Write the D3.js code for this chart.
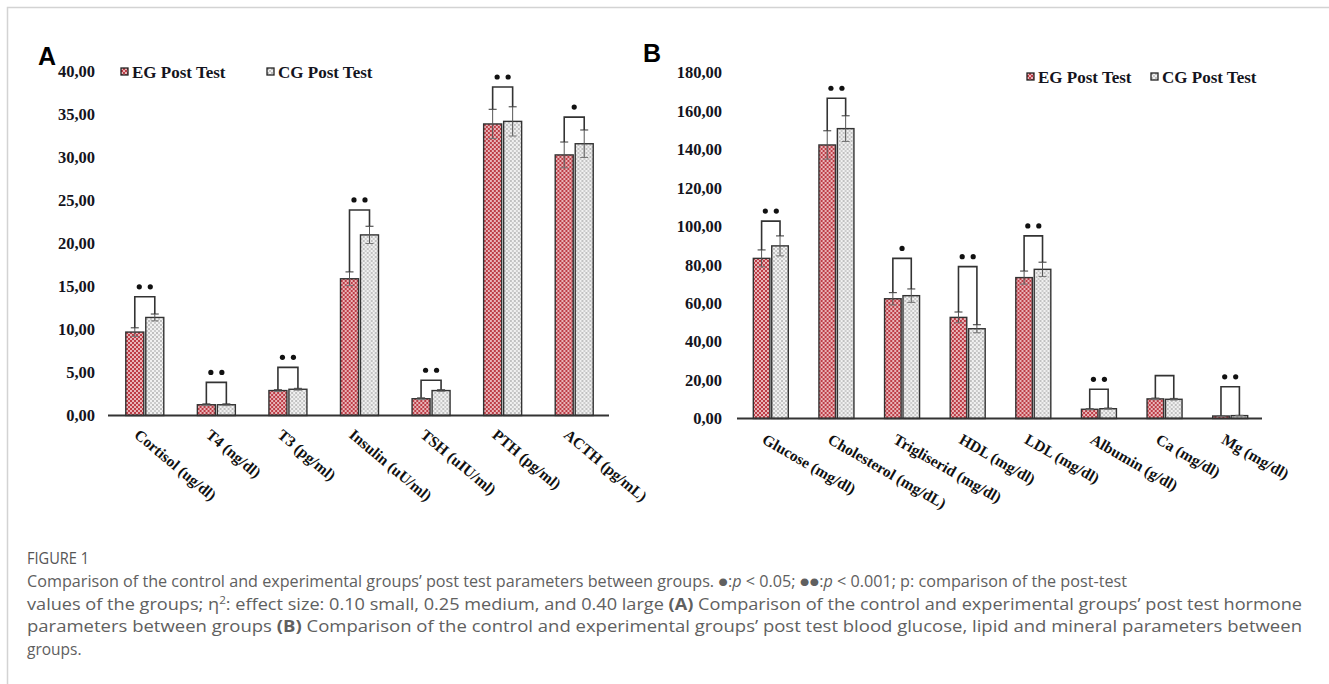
<!DOCTYPE html>
<html>
<head>
<meta charset="utf-8">
<script src="https://cdn.jsdelivr.net/npm/d3@7"></script>
<style>
  body { margin: 0; background: #fff; }
  svg { display: block; }
</style>
</head>
<body>
<script>
// Panel A: hormone parameters
const catsA = ['Cortisol (ug/dl)', 'T4 (ng/dl)', 'T3 (pg/ml)', 'Insulin (uU/ml)', 'TSH (uIU/ml)', 'PTH (pg/ml)', 'ACTH (pg/mL)'];
const egA = [9.7, 1.25, 2.9, 15.9, 1.95, 33.9, 30.3];
const cgA = [11.4, 1.25, 3.05, 21.0, 2.9, 34.2, 31.6];
const egErrA = [0.5, 0.1, 0.1, 0.8, 0.1, 1.7, 1.5];
const cgErrA = [0.4, 0.1, 0.1, 1.0, 0.1, 1.7, 1.6];
const bracketA = [13.8, 3.85, 5.6, 23.9, 4.1, 38.2, 34.7];
const sigA = [2, 2, 2, 2, 2, 2, 1];
const ticksA = [0, 5, 10, 15, 20, 25, 30, 35, 40];

// Panel B: glucose, lipid and mineral parameters
const catsB = ['Glucose (mg/dl)', 'Cholesterol (mg/dL)', 'Trigliserid (mg/dl)', 'HDL (mg/dl)', 'LDL (mg/dl)', 'Albumin (g/dl)', 'Ca (mg/dl)', 'Mg (mg/dl)'];
const egB = [83.3, 142.3, 62.3, 52.6, 73.3, 4.8, 10.2, 1.3];
const cgB = [89.8, 150.8, 63.9, 46.7, 77.6, 5.1, 10.0, 1.5];
const egErrB = [4.4, 7.4, 3.2, 2.8, 3.4, 0.3, 0.4, 0.1];
const cgErrB = [5.2, 6.7, 3.5, 2.1, 3.7, 0.3, 0.4, 0.1];
const bracketB = [102.7, 166.6, 83.3, 79, 95, 15.2, 22.3, 16.5];
const sigB = [2, 2, 1, 2, 2, 2, 0, 2];
const ticksB = [0, 20, 40, 60, 80, 100, 120, 140, 160, 180];

const groups = ['EG Post Test', 'CG Post Test'];

const serif = '"Liberation Serif", "Times New Roman", serif';
const fmt = d => d3.format('.2f')(d).replace('.', ',');

const svg = d3.select('body').append('svg').attr('width', 1329).attr('height', 684);

// patterns for the two groups
const defs = svg.append('defs');
const pEG = defs.append('pattern').attr('id', 'pat-eg')
    .attr('width', 4).attr('height', 4).attr('patternUnits', 'userSpaceOnUse');
pEG.append('rect').attr('width', 4).attr('height', 4).attr('fill', '#bd3d46');
pEG.append('circle').attr('cx', 1).attr('cy', 1).attr('r', 0.95).attr('fill', '#fbe9ea');
pEG.append('circle').attr('cx', 3).attr('cy', 3).attr('r', 0.95).attr('fill', '#fbe9ea');

const pCG = defs.append('pattern').attr('id', 'pat-cg')
    .attr('width', 4).attr('height', 4).attr('patternUnits', 'userSpaceOnUse');
pCG.append('rect').attr('width', 4).attr('height', 4).attr('fill', '#f1f1f1');
pCG.append('circle').attr('cx', 1).attr('cy', 1).attr('r', 0.7).attr('fill', '#6a6a6a');
pCG.append('circle').attr('cx', 3).attr('cy', 3).attr('r', 0.7).attr('fill', '#8a8a8a');

const fills = ['url(#pat-eg)', 'url(#pat-cg)'];

// light frame
svg.append('path')
    .attr('d', 'M7.5,684 V7.5 H1329')
    .attr('fill', 'none').attr('stroke', '#d3d3d3').attr('stroke-width', 1.5);

function drawPanel(o) {
    const g = svg.append('g');

    const x = d3.scaleBand().domain(o.cats).range(o.xRange);
    const bw = x.bandwidth();
    const x1 = d3.scaleBand().domain(groups)
        .range([bw / 2 - o.pair / 2 + 1, bw / 2 + o.pair / 2 + 1]).paddingInner(0.1);
    const y = d3.scaleLinear().domain([0, d3.max(o.ticks)]).range(o.yRange);

    // y tick labels (no axis line)
    const ya = g.append('g').attr('transform', `translate(${o.xRange[0]},0)`)
        .call(d3.axisLeft(y).tickValues(o.ticks).tickSize(0).tickPadding(o.tickPad).tickFormat(fmt));
    ya.select('.domain').remove();
    ya.selectAll('text')
        .attr('font-family', serif).attr('font-weight', 'bold')
        .attr('font-size', 16.5).attr('fill', '#141420');

    // x labels
    const xa = g.append('g').attr('transform', `translate(0,${o.yRange[0]})`)
        .call(d3.axisBottom(x).tickSize(0));
    xa.select('.domain').remove();
    xa.selectAll('text')
        .attr('x', 0).attr('y', 0).attr('dy', '0.75em')
        .attr('text-anchor', 'start')
        .attr('transform', `translate(${o.labelDx},${o.labelDy}) rotate(${o.angle})`)
        .attr('font-family', serif).attr('font-weight', 'bold')
        .attr('font-size', 15.5).attr('fill', '#111');

    const rows = o.cats.map((c, i) => ({
        c, vals: [o.eg[i], o.cg[i]], errs: [o.egErr[i], o.cgErr[i]],
        br: o.bracket[i], sig: o.sig[i]
    }));

    const cat = g.selectAll('.cat').data(rows).join('g')
        .attr('class', 'cat')
        .attr('transform', d => `translate(${x(d.c)},0)`);

    // bars
    cat.selectAll('rect.bar')
        .data(d => d.vals.map((v, k) => ({ v, k, e: d.errs[k] })))
        .join('rect').attr('class', 'bar')
        .attr('x', d => x1(groups[d.k]))
        .attr('width', x1.bandwidth())
        .attr('y', d => y(d.v))
        .attr('height', d => y(0) - y(d.v))
        .attr('fill', d => fills[d.k])
        .attr('stroke', '#333').attr('stroke-width', 1.4);

    // error bars
    const eb = cat.selectAll('g.err')
        .data(d => d.vals.map((v, k) => ({ v, k, e: d.errs[k] })))
        .join('g').attr('class', 'err')
        .attr('transform', d => `translate(${x1(groups[d.k]) + x1.bandwidth() / 2},0)`);
    eb.append('line')
        .attr('y1', d => y(d.v - d.e)).attr('y2', d => y(d.v + d.e))
        .attr('stroke', '#555').attr('stroke-width', 1);
    eb.append('line')
        .attr('x1', -4).attr('x2', 4)
        .attr('y1', d => y(d.v + d.e)).attr('y2', d => y(d.v + d.e))
        .attr('stroke', '#555').attr('stroke-width', 1.2);
    eb.append('line')
        .attr('x1', -4).attr('x2', 4)
        .attr('y1', d => y(d.v - d.e)).attr('y2', d => y(d.v - d.e))
        .attr('stroke', '#777').attr('stroke-width', 1);

    // significance brackets
    const cx0 = x1(groups[0]) + x1.bandwidth() / 2;
    const cx1 = x1(groups[1]) + x1.bandwidth() / 2;
    cat.append('path')
        .attr('d', d => `M${cx0},${y(d.vals[0] + d.errs[0])} V${y(d.br)} H${cx1} V${y(d.vals[1] + d.errs[1])}`)
        .attr('fill', 'none').attr('stroke', '#333').attr('stroke-width', 1.6);

    cat.selectAll('circle.sig')
        .data(d => d3.range(d.sig).map(j => ({ j, n: d.sig, br: d.br })))
        .join('circle').attr('class', 'sig')
        .attr('cx', d => (cx0 + cx1) / 2 + (d.j - (d.n - 1) / 2) * 11)
        .attr('cy', d => y(d.br) - 10)
        .attr('r', 2.6).attr('fill', '#111');

    // baseline
    g.append('line')
        .attr('x1', o.xRange[0]).attr('x2', o.xRange[1])
        .attr('y1', y(0)).attr('y2', y(0))
        .attr('stroke', '#333').attr('stroke-width', 2);

    // legend
    const lg = g.selectAll('.leg').data(groups).join('g')
        .attr('class', 'leg')
        .attr('transform', (d, k) => `translate(${o.legendX[k]},${o.legendY})`);
    lg.append('rect')
        .attr('x', 0).attr('y', -4).attr('width', 7).attr('height', 7)
        .attr('fill', (d, k) => fills[k])
        .attr('stroke', '#222').attr('stroke-width', 1.3);
    lg.append('text')
        .attr('x', 11).attr('y', 5.5)
        .attr('font-family', serif).attr('font-weight', 'bold')
        .attr('font-size', 17).attr('fill', '#141420')
        .text(d => d);

    // panel letter
    svg.append('text')
        .attr('x', o.letterX).attr('y', o.letterY)
        .attr('font-family', '"Liberation Sans", Arial, sans-serif')
        .attr('font-weight', 'bold').attr('font-size', 25).attr('fill', '#000')
        .text(o.letter);
}

drawPanel({
    cats: catsA, eg: egA, cg: cgA, egErr: egErrA, cgErr: cgErrA,
    bracket: bracketA, sig: sigA, ticks: ticksA,
    xRange: [108, 609], yRange: [415.5, 71.5], pair: 38, tickPad: 13,
    angle: 40, labelDx: -3, labelDy: 12,
    legendX: [121, 267], legendY: 72,
    letter: 'A', letterX: 38, letterY: 65
});

drawPanel({
    cats: catsB, eg: egB, cg: cgB, egErr: egErrB, cgErr: cgErrB,
    bracket: bracketB, sig: sigB, ticks: ticksB,
    xRange: [737, 1262], yRange: [418.5, 72.5], pair: 35, tickPad: 15,
    angle: 30, labelDx: -3, labelDy: 14,
    legendX: [1027, 1151], legendY: 77,
    letter: 'B', letterX: 643, letterY: 62
});

// caption
const cap = svg.append('g')
    .attr('font-family', '"Open Sans", Lato, sans-serif')
    .attr('font-size', 15.5).attr('fill', '#606060');

cap.append('text').attr('x', 27).attr('y', 564).attr('font-size', 16.5).attr('fill', '#555')
    .attr('textLength', 62).attr('lengthAdjust', 'spacingAndGlyphs')
    .text('FIGURE 1');

const l1 = cap.append('text').attr('x', 27).attr('y', 587)
    .attr('textLength', 1100).attr('lengthAdjust', 'spacingAndGlyphs');
l1.append('tspan').text('Comparison of the control and experimental groups\u2019 post test parameters between groups. \u25CF:');
l1.append('tspan').attr('font-style', 'italic').text('p');
l1.append('tspan').text(' < 0.05; \u25CF\u25CF:');
l1.append('tspan').attr('font-style', 'italic').text('p');
l1.append('tspan').text(' < 0.001; p: comparison of the post-test');

const l2 = cap.append('text').attr('x', 27).attr('y', 609.5)
    .attr('textLength', 1275).attr('lengthAdjust', 'spacingAndGlyphs');
l2.append('tspan').text('values of the groups; \u03B7');
l2.append('tspan').attr('font-size', 10).attr('dy', -6).text('2');
l2.append('tspan').attr('dy', 6).text(': effect size: 0.10 small, 0.25 medium, and 0.40 large ');
l2.append('tspan').attr('font-weight', 'bold').text('(A)');
l2.append('tspan').text(' Comparison of the control and experimental groups\u2019 post test hormone');

const l3 = cap.append('text').attr('x', 27).attr('y', 632)
    .attr('textLength', 1275).attr('lengthAdjust', 'spacingAndGlyphs');
l3.append('tspan').text('parameters between groups ');
l3.append('tspan').attr('font-weight', 'bold').text('(B)');
l3.append('tspan').text(' Comparison of the control and experimental groups\u2019 post test blood glucose, lipid and mineral parameters between');

cap.append('text').attr('x', 27).attr('y', 654.5).text('groups.');
</script>
</body>
</html>
